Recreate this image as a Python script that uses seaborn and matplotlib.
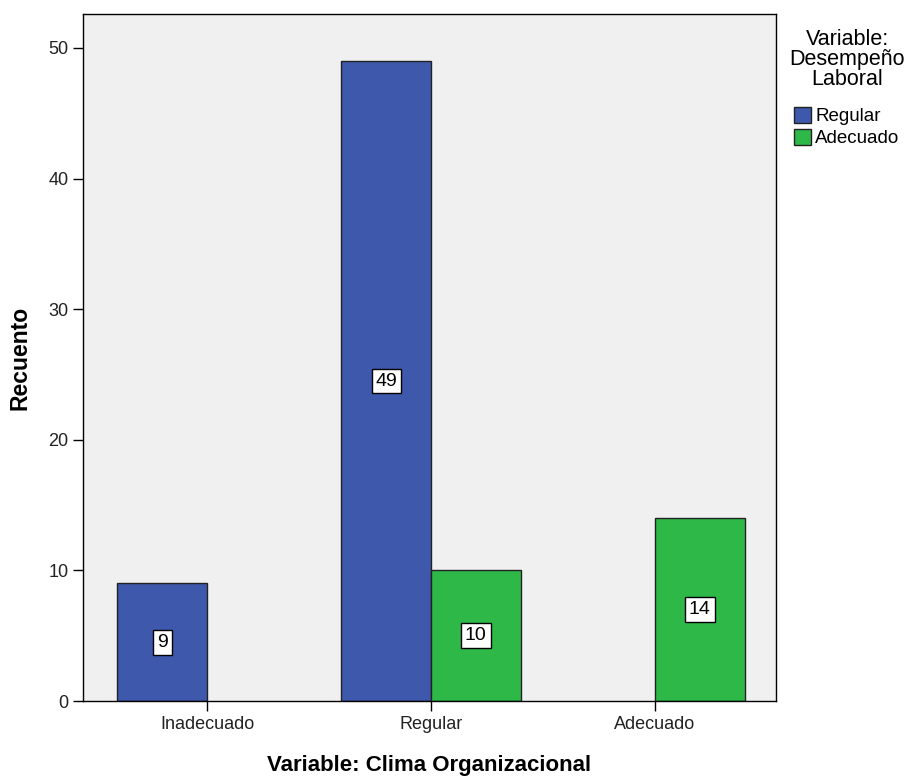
import matplotlib.pyplot as plt
import seaborn as sns
import pandas as pd

sns.set_theme(style="white")
plt.rcParams['font.family'] = ['Liberation Sans', 'DejaVu Sans']
plt.rcParams['text.color'] = 'black'
plt.rcParams['axes.labelcolor'] = 'black'
plt.rcParams['xtick.color'] = 'black'
plt.rcParams['ytick.color'] = 'black'

# Datos
clima = ['Inadecuado', 'Regular', 'Adecuado']
desempeno = ['Regular', 'Adecuado']
recuento_regular = [9, 49, 0]
recuento_adecuado = [0, 10, 14]

df = pd.DataFrame({
    'Clima': clima * 2,
    'Desempeno': [desempeno[0]] * 3 + [desempeno[1]] * 3,
    'Recuento': recuento_regular + recuento_adecuado,
})

colores = {'Regular': '#3E58AC', 'Adecuado': '#2EB848'}

fig = plt.figure(figsize=(9.09, 7.77), dpi=100)
ax = fig.add_axes([0.0913, 0.0978, 0.7624, 0.8842])
ax.set_facecolor('#F0F0F0')

sns.barplot(data=df, x='Clima', y='Recuento', hue='Desempeno', order=clima,
            hue_order=desempeno, palette=colores, width=0.8, edgecolor='#222222',
            linewidth=1, saturation=1, ax=ax, legend=False)

# Etiquetas dentro de las barras (las barras vacias no se dibujan)
for cont in ax.containers:
    for barra in cont:
        h = barra.get_height()
        if h > 0:
            ax.text(barra.get_x() + barra.get_width() / 2, h / 2, f'{int(h)}',
                    ha='center', va='center', fontsize=14,
                    bbox=dict(boxstyle='square,pad=0.2', fc='white', ec='black', lw=1))
        else:
            barra.set_visible(False)

ax.set_xlim(-0.554, 2.54)
ax.set_ylim(0, 52.6)
ax.set_yticks([0, 10, 20, 30, 40, 50])
ax.tick_params(axis='both', which='both', length=7, width=1, color='black',
               labelsize=13, left=True, bottom=True, labelcolor='#222222')
for s in ax.spines.values():
    s.set_color('black')
    s.set_linewidth(1)

ax.set_xlabel('Variable: Clima Organizacional', fontsize=16, fontweight='bold', labelpad=16)
ax.set_ylabel('Recuento', fontsize=16.5, fontweight='bold', labelpad=12)

# Leyenda
fig.text(0.932, 0.963, 'Variable:\nDesempeño\nLaboral', ha='center', va='top',
         fontsize=15.5, linespacing=0.95)
handles = [plt.Rectangle((0, 0), 1, 1, fc=colores[d], ec='#222222') for d in desempeno]
fig.legend(handles, desempeno, loc='upper left', bbox_to_anchor=(0.874, 0.862),
           frameon=False, fontsize=13.5, handlelength=0.9, handleheight=0.9,
           handletextpad=0.2, labelspacing=0.2, borderaxespad=0, borderpad=0)

fig.savefig('out.png', dpi=100)
